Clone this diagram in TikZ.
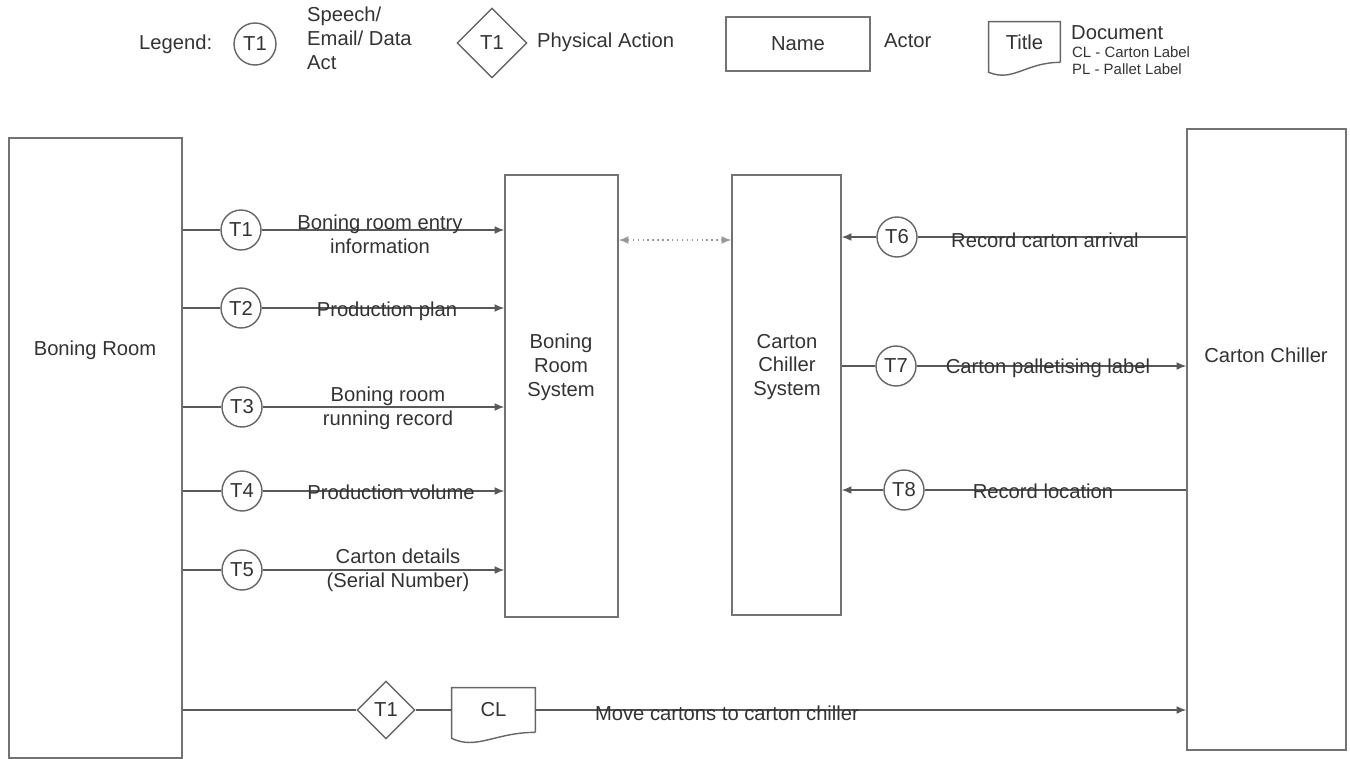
\documentclass[tikz,border=0pt]{standalone}
\usepackage{fontspec}
\setmainfont{Liberation Sans}
\usepackage{xcolor}
\usepackage{tikz}
\usetikzlibrary{positioning,shapes.geometric,arrows.meta,calc}

\begin{document}
\begin{tikzpicture}[
    x=0.02cm, y=-0.02cm,
    font=\fontsize{11.5}{13.6}\selectfont,
    every node/.style={align=center, text=black!80},
    actor/.style={
        rectangle,
        draw=black!55,
        line width=0.9pt,
        fill=white,
        inner sep=0pt
    },
    act/.style={
        circle,
        draw=black!60,
        line width=0.8pt,
        fill=white,
        minimum size=0.8cm,
        inner sep=0pt
    },
    phys/.style={
        diamond,
        draw=black!60,
        line width=0.8pt,
        fill=white,
        minimum width=#1,
        minimum height=#1,
        inner sep=0pt
    },
    docbox/.style={
        rectangle,
        minimum width=#1,
        inner sep=0pt
    },
    line/.style={draw=black!65, line width=0.8pt},
    flow/.style={line, -{Latex[length=5.5pt,width=4.5pt]}},
    sync/.style={draw=black!40, line width=0.8pt, dotted,
        {Latex[length=5.5pt,width=4.5pt]}-{Latex[length=5.5pt,width=4.5pt]}},
    small/.style={font=\fontsize{8.5}{10}\selectfont},
]
\useasboundingbox (0,0) rectangle (1350,758);

% legend
\node[anchor=west] (leg) at (133,44) {Legend:};
\node[act, minimum size=0.84cm] (lt) at (255,44) {T1};
\node[anchor=west, align=left] (ltxt) at (301,38) {Speech/\\Email/ Data\\Act};
\node[phys=1.4cm] (lp) at (492,43) {T1};
\node[anchor=west] (lptxt) at (531,42) {Physical Action};
\node[actor, minimum width=2.88cm, minimum height=1.08cm] (ln) at (798,44) {Name};
\node[anchor=west] (lntxt) at (878,41) {Actor};
\node[docbox=1.42cm, minimum height=0.8cm] (ld) at (1024.5,42) {Title};
\draw[draw=black!60, line width=0.8pt] (ld.south east) -- (ld.north east) -- (ld.north west)
    -- ($(ld.south west)+(0,10)$) .. controls +(25,10) and +(-35,0) .. (ld.south east);
\node[anchor=west] (ldtxt) at (1065,33) {Document};
\node[anchor=west, small] (ldcl) at (1066,52) {CL - Carton Label};
\node[anchor=west, small] (ldpl) at (1066,69) {PL - Pallet Label};

% actors and systems
\node[actor, minimum width=3.46cm, minimum height=12.4cm] (br) at (95.5,448) {};
\node (brtxt) at (95,350) {Boning Room};
\node[actor, minimum width=2.26cm, minimum height=8.84cm] (brs) at (561.5,396) {};
\node (brstxt) at (561,367) {Boning\\Room\\System};
\node[actor, minimum width=2.18cm, minimum height=8.8cm] (ccs) at (786.5,395) {};
\node (ccstxt) at (787,367) {Carton\\Chiller\\System};
\node[actor, minimum width=3.18cm, minimum height=12.42cm] (cc) at (1266.5,439.5) {};
\node (cctxt) at (1266,355) {Carton Chiller};

\coordinate (syn) at (675,240);
\draw[sync] (syn -| brs.east) -- (syn -| ccs.west);

% boning room acts
\node[act] (t1) at (241,230) {T1};
\node[act] (t2) at (241,308) {T2};
\node[act] (t3) at (242,407) {T3};
\node[act] (t4) at (242,491) {T4};
\node[act] (t5) at (242,570) {T5};
\draw[line] (t1 -| br.east) -- (t1);
\draw[line] (t2 -| br.east) -- (t2);
\draw[line] (t3 -| br.east) -- (t3);
\draw[line] (t4 -| br.east) -- (t4);
\draw[line] (t5 -| br.east) -- (t5);
\draw[flow] (t1) -- (t1 -| brs.west);
\draw[flow] (t2) -- (t2 -| brs.west);
\draw[flow] (t3) -- (t3 -| brs.west);
\draw[flow] (t4) -- (t4 -| brs.west);
\draw[flow] (t5) -- (t5 -| brs.west);
\node (l1) at (380,234) {Boning room entry\\information};
\node (l2) at (387,311) {Production plan};
\node (l3) at (388,408) {Boning room\\running record};
\node (l4) at (391,492) {Production volume};
\node (l5) at (398,570) {Carton details\\(Serial Number)};

% carton chiller acts
\node[act] (t6) at (897,237) {T6};
\node[act] (t7) at (896,366) {T7};
\node[act] (t8) at (904,490) {T8};
\draw[line] (t6 -| cc.west) -- (t6);
\draw[flow] (t6) -- (t6 -| ccs.east);
\draw[line] (t7 -| ccs.east) -- (t7);
\draw[flow] (t7) -- (t7 -| cc.west);
\draw[line] (t8 -| cc.west) -- (t8);
\draw[flow] (t8) -- (t8 -| ccs.east);
\node (l6) at (1045,240) {Record carton arrival};
\node (l7) at (1048,368) {Carton palletising label};
\node (l8) at (1043,491) {Record location};

% physical move
\node[phys=1.16cm] (pa) at (386,710) {T1};
\node[docbox=1.66cm, minimum height=0.88cm] (cl) at (493.5,710) {CL};
\draw[draw=black!60, line width=0.8pt] (cl.south east) -- (cl.north east) -- (cl.north west)
    -- ($(cl.south west)+(0,6)$) .. controls +(25,12) and +(-40,0) .. (cl.south east);
\draw[line] (pa -| br.east) -- (pa);
\draw[line] (pa) -- (cl);
\draw[flow] (cl) -- (cl -| cc.west);
\node (lm) at (727,713) {Move cartons to carton chiller};

\end{tikzpicture}
\end{document}
